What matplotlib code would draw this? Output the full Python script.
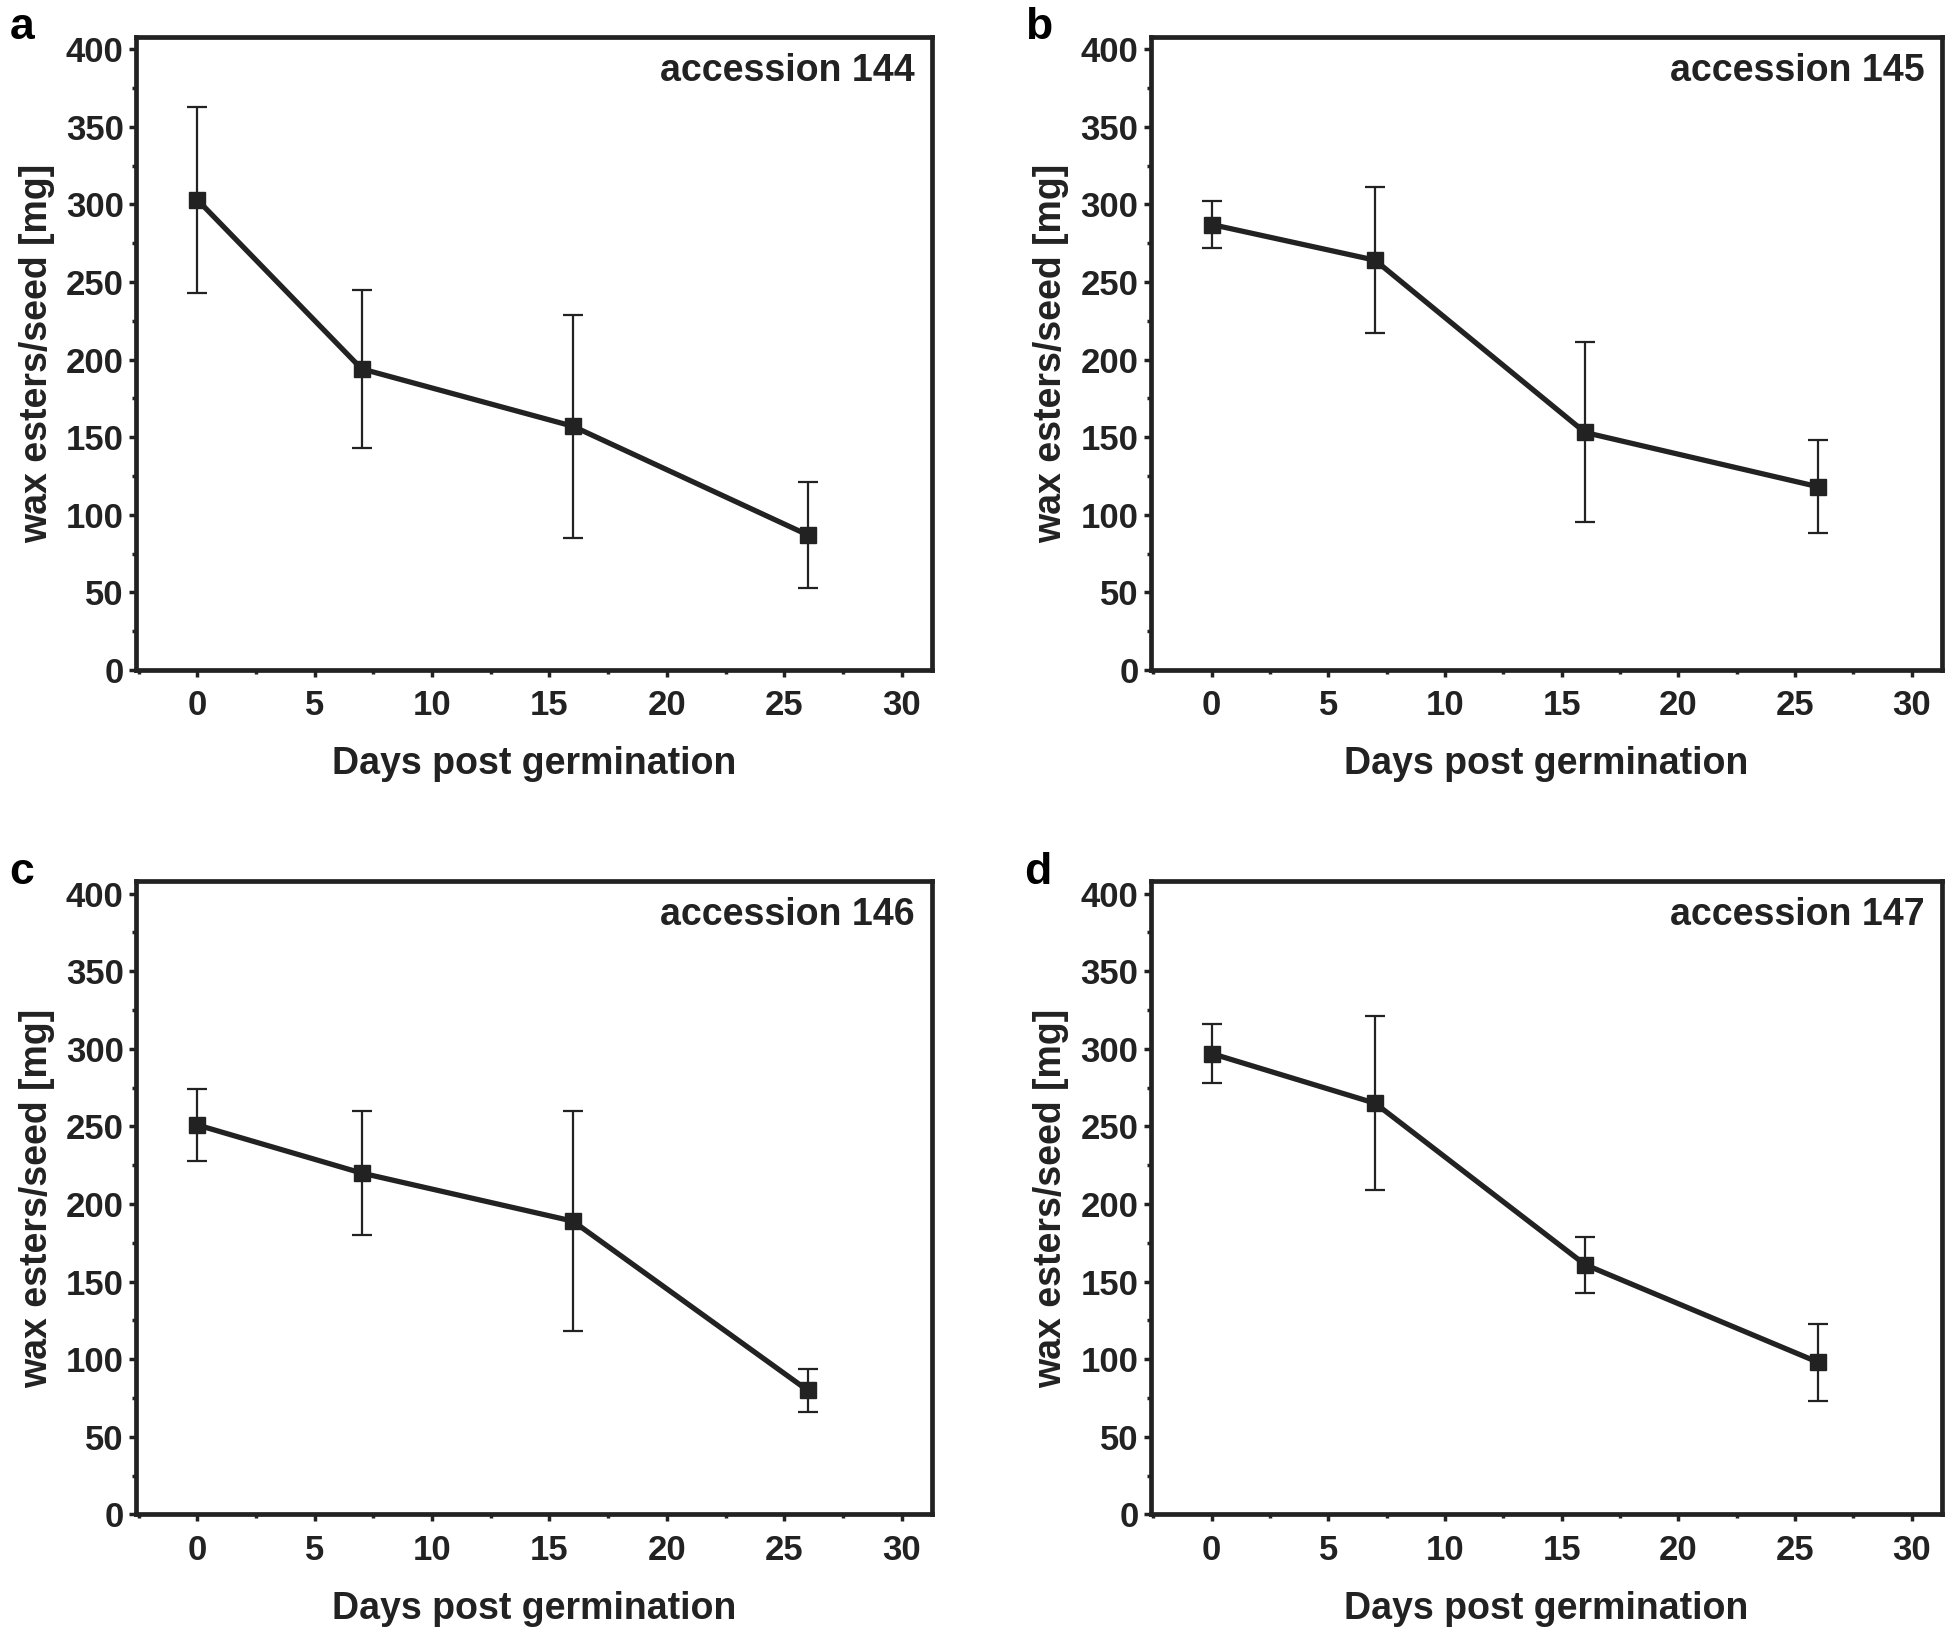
import matplotlib
matplotlib.use("Agg")
import matplotlib.pyplot as plt
from matplotlib.ticker import MultipleLocator

plt.rcParams['font.family'] = ['Liberation Sans Narrow', 'Liberation Sans', 'DejaVu Sans']
plt.rcParams['font.weight'] = 'bold'

days = [0, 7, 16, 26]

acc_144 = [303, 194, 157, 87]
err_144 = [60, 51, 72, 34]

acc_145 = [287, 264, 153, 118]
err_145 = [15, 47, 58, 30]

acc_146 = [251, 220, 189, 80]
err_146 = [23, 40, 71, 14]

acc_147 = [297, 265, 161, 98]
err_147 = [19, 56, 18, 25]

panels = [('a', 'accession 144', acc_144, err_144),
          ('b', 'accession 145', acc_145, err_145),
          ('c', 'accession 146', acc_146, err_146),
          ('d', 'accession 147', acc_147, err_147)]

dark = '#222222'

fig = plt.figure(figsize=(19.46, 16.32), dpi=100)

# axes boxes in figure fractions: left, bottom, width, height
boxes = [(0.070, 0.5895, 0.409, 0.388),
         (0.5915, 0.5895, 0.4065, 0.388),
         (0.070, 0.072, 0.409, 0.388),
         (0.5915, 0.072, 0.4065, 0.388)]

for (letter, name, vals, errs), box in zip(panels, boxes):
    ax = fig.add_axes(box)
    ax.errorbar(days, vals, yerr=errs, color=dark, lw=3.8, marker='s', ms=12,
                ecolor=dark, elinewidth=1.6, capsize=7, capthick=1.6)
    ax.set_xlim(-2.6, 31.3)
    ax.set_ylim(0, 408)
    ax.xaxis.set_major_locator(MultipleLocator(5))
    ax.xaxis.set_minor_locator(MultipleLocator(2.5))
    ax.yaxis.set_major_locator(MultipleLocator(50))
    ax.yaxis.set_minor_locator(MultipleLocator(25))
    ax.tick_params(which='major', direction='out', length=5, width=2.5,
                   labelsize=25, colors=dark)
    ax.tick_params(axis='x', which='major', pad=9)
    ax.tick_params(axis='y', which='major', pad=4)
    ax.tick_params(which='minor', direction='out', length=3, width=2.5, colors=dark)
    for sp in ax.spines.values():
        sp.set_linewidth(3.4)
        sp.set_color(dark)
    ax.set_xlabel('Days post germination', fontsize=27, fontweight='bold',
                  color=dark, labelpad=17)
    ax.set_ylabel('wax esters/seed [mg]', fontsize=27, fontweight='bold',
                  color=dark, labelpad=8)
    ax.text(0.978, 0.975, name, transform=ax.transAxes, ha='right', va='top',
            fontsize=27, fontweight='bold', color=dark)
    ax.text(box[0] - 0.065, box[1] + box[3] + 0.018, letter, transform=fig.transFigure,
            ha='left', va='top', fontsize=32, fontweight='bold', color='black',
            family=['Liberation Sans', 'DejaVu Sans'])

fig.savefig('out.png', dpi=100)
